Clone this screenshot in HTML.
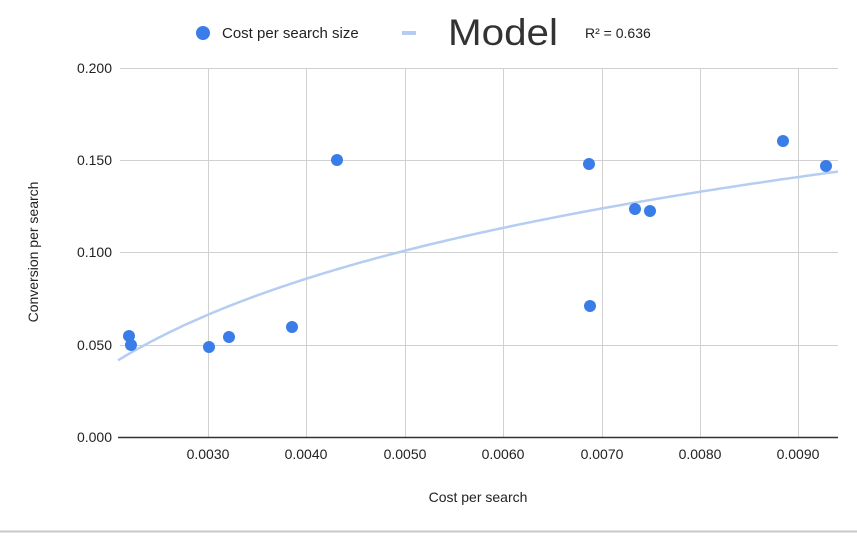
<!DOCTYPE html>
<html><head><meta charset="utf-8"><style>
body{margin:0;background:#fff;}
svg text{font-family:"Liberation Sans",Arial,sans-serif;fill:#222;}
</style></head><body>
<svg id="s" width="857" height="534" viewBox="0 0 857 534" xmlns="http://www.w3.org/2000/svg">
<rect width="857" height="534" fill="#fff"/>
<g stroke="#d0d0d0" stroke-width="1">
<line x1="120" y1="68.5" x2="838" y2="68.5"/>
<line x1="120" y1="160.5" x2="838" y2="160.5"/>
<line x1="120" y1="252.5" x2="838" y2="252.5"/>
<line x1="120" y1="345.5" x2="838" y2="345.5"/>
<line x1="208.5" y1="68" x2="208.5" y2="437"/>
<line x1="306.5" y1="68" x2="306.5" y2="437"/>
<line x1="405.5" y1="68" x2="405.5" y2="437"/>
<line x1="503.5" y1="68" x2="503.5" y2="437"/>
<line x1="602.5" y1="68" x2="602.5" y2="437"/>
<line x1="700.5" y1="68" x2="700.5" y2="437"/>
<line x1="798.5" y1="68" x2="798.5" y2="437"/>
</g>
<line x1="118" y1="437.5" x2="838" y2="437.5" stroke="#333" stroke-width="1.5"/>
<path id="trend" fill="none" stroke="#b5cdf2" stroke-width="2.5"/>
<g fill="#3b7de8">
<circle cx="129" cy="336" r="6"/><circle cx="131" cy="345" r="6"/>
<circle cx="209" cy="347" r="6"/><circle cx="229" cy="337" r="6"/>
<circle cx="292" cy="327" r="6"/><circle cx="337" cy="160" r="6"/>
<circle cx="589" cy="164" r="6"/><circle cx="590" cy="306" r="6"/>
<circle cx="635" cy="209" r="6"/><circle cx="650" cy="211" r="6"/>
<circle cx="783" cy="141" r="6"/><circle cx="826" cy="166" r="6"/>
</g>
<g font-size="14" text-anchor="end">
<text x="112" y="73">0.200</text><text x="112" y="165">0.150</text>
<text x="112" y="257">0.100</text><text x="112" y="350">0.050</text>
<text x="112" y="442">0.000</text>
</g>
<g font-size="14" text-anchor="middle">
<text x="208" y="459">0.0030</text><text x="306" y="459">0.0040</text>
<text x="405" y="459">0.0050</text><text x="503" y="459">0.0060</text>
<text x="602" y="459">0.0070</text><text x="700" y="459">0.0080</text>
<text x="798" y="459">0.0090</text>
<text x="478" y="502">Cost per search</text>
<text transform="translate(38,252) rotate(-90)">Conversion per search</text>
</g>
<circle cx="203" cy="33" r="7" fill="#3b7de8"/>
<text x="222" y="38" font-size="15">Cost per search size</text>
<rect x="402" y="31" width="14" height="4" fill="#b5cdf2"/>
<text x="448" y="45" font-size="37" textLength="110" lengthAdjust="spacingAndGlyphs" style="fill:#333">Model</text>
<text x="585" y="38" font-size="14">R² = 0.636</text>
<line x1="0" y1="531.5" x2="857" y2="531.5" stroke="#c8c8c8" stroke-width="2"/>
</svg>
<script>
var d="";for(var px=118;px<=838;px+=4){var x=0.003+(px-208)/98.5*0.001;var y=0.101+0.068*Math.log(x/0.005);var py=437-y/0.2*369;d+=(d?"L":"M")+px+","+py.toFixed(1);}
document.getElementById("trend").setAttribute("d",d);
</script>
</body></html>
